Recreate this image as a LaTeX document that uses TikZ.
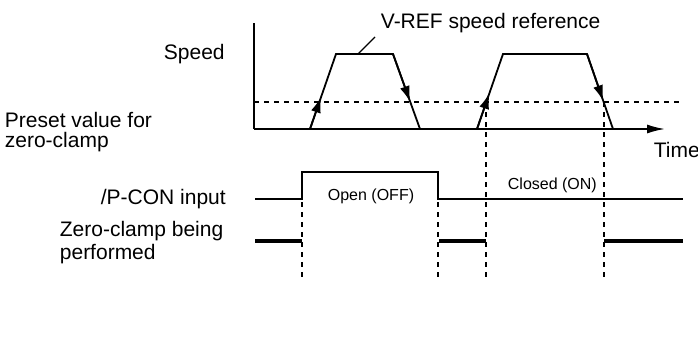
\documentclass[tikz,border=0pt]{standalone}
\usepackage{fontspec}
\setmainfont{Liberation Sans}
\usetikzlibrary{arrows.meta,calc}

\begin{document}
\begin{tikzpicture}[x=0.5pt, y=-0.5pt, line width=0.9pt,
  every node/.style={font=\fontsize{10.5}{12.6}\selectfont, inner sep=0pt, anchor=base west},
  small/.style={font=\fontsize{8}{9.6}\selectfont},
  guide/.style={dash pattern=on 2.5pt off 2.5pt, line width=0.6pt},
  tip/.style={-{Latex[length=8pt,width=5pt]}},
  axistip/.style={-{Latex[length=9pt,width=4.5pt]}},
  signal/.style={line width=0.6pt},
  clamp/.style={line width=2pt}]
  \useasboundingbox (0,0) rectangle (698,337);

  % axes
  \coordinate (top) at (254,23);
  \coordinate (o) at (254,129);
  \coordinate (tend) at (665,129);
  \draw (top) -- (o);
  \draw[axistip] (o) -- (tend);
  \draw[guide, line width=0.7pt] (254,102) coordinate (p0) -- (680,102) coordinate (p1);

  % speed reference
  \coordinate (a1) at (310,129);
  \coordinate (b1) at (336,54);
  \coordinate (c1) at (393,54);
  \coordinate (d1) at (420,129);
  \coordinate (a2) at (477,129);
  \coordinate (b2) at (503,54);
  \coordinate (c2) at (587,54);
  \coordinate (d2) at (613,129);
  \draw (a1) -- (b1) -- (c1) -- (d1);
  \draw (a2) -- (b2) -- (c2) -- (d2);
  \draw[tip] (a1) -- ($(a1)!0.43!(b1)$);
  \draw[tip] (c1) -- ($(c1)!0.64!(d1)$);
  \draw[tip] (a2) -- ($(a2)!0.48!(b2)$);
  \draw[tip] (c2) -- ($(c2)!0.63!(d2)$);

  % labels
  \node (speed) at (163,60) {Speed};
  \node (vref) at (380,28) {V-REF speed reference};
  \coordinate (lead) at (375,37);
  \draw[line width=0.7pt] (358,54) -- (lead);
  \node (preset) at (4,127) {Preset value for};
  \node (presetb) at (4,148) {zero-clamp};
  \node (time) at (653,157) {Time};
  \node (pcon) at (100,205) {/P-CON input};
  \node (zc) at (59,236) {Zero-clamp being};
  \node (zcb) at (59,259) {performed};
  \node[small] (open) at (327,200) {Open (OFF)};
  \node[small] (closed) at (507,190) {Closed (ON)};

  % /P-CON and zero-clamp signals
  \draw[signal] (255,199) -- (302,199) -- (302,172) -- (438,172) -- (438,199) -- (683,199);
  \draw[clamp] (255,241) -- (302,241);
  \draw[clamp] (439,241) -- (486,241);
  \draw[clamp] (604,241) -- (683,241);

  % timing guides
  \draw[guide] (302,172) -- (302,277);
  \draw[guide] (438,172) -- (438,277);
  \draw[guide] (486,102) -- (486,277);
  \draw[guide] (604,102) -- (604,277);
\end{tikzpicture}
\end{document}
